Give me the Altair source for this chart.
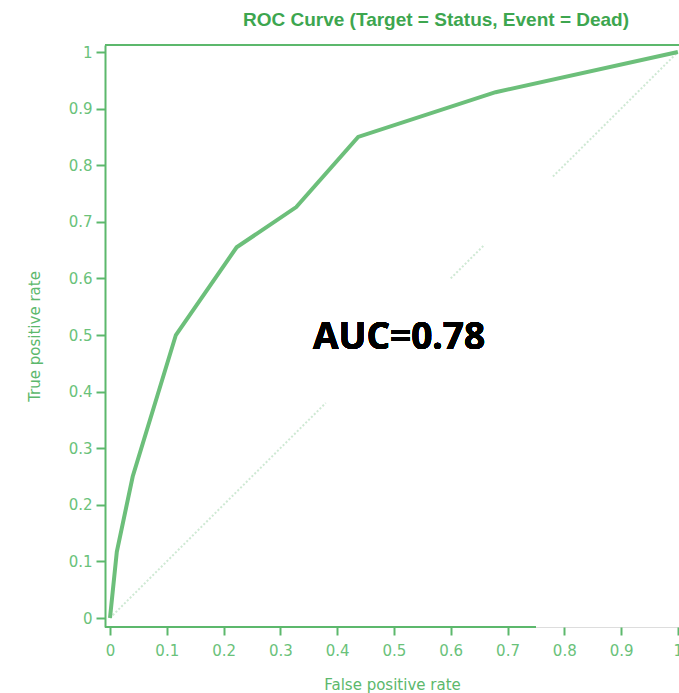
import altair as alt
import pandas as pd

fpr = [0.0, 0.012, 0.04, 0.116, 0.223, 0.328, 0.437, 0.679, 1.0]
tpr = [0.0, 0.117, 0.25, 0.50, 0.655, 0.726, 0.85, 0.929, 1.0]

diag_x = [0.0, 0.38, 0.60, 0.66, 0.78, 1.0]
diag_y = [0.0, 0.38, 0.60, 0.66, 0.78, 1.0]
diag_seg = ["a", "a", "b", "b", "c", "c"]

ticks = [0, 0.1, 0.2, 0.3, 0.4, 0.5, 0.6, 0.7, 0.8, 0.9, 1]

roc = pd.DataFrame({"fpr": fpr, "tpr": tpr})
diag = pd.DataFrame({"fpr": diag_x, "tpr": diag_y, "seg": diag_seg})

GREEN = "#5cb86c"
LINE = "#6cbf7a"
LABEL = "#6ac27a"

W, H = 574, 582
xs = alt.Scale(domain=[-0.0088, 1.002], nice=False, zero=False)
ys = alt.Scale(domain=[-0.0159, 1.0124], nice=False, zero=False)

xax = alt.Axis(values=ticks, title="False positive rate", labelExpr="format(datum.value, '~g')",
               domain=False, grid=False, tickColor=GREEN, tickSize=8, tickWidth=2,
               labelColor=LABEL, labelFont="DejaVu Sans", labelFontSize=15, labelPadding=8,
               titleColor=GREEN, titleFont="DejaVu Sans", titleFontSize=15, titleFontWeight="normal",
               titlePadding=19)
yax = alt.Axis(values=ticks, title="True positive rate", labelExpr="format(datum.value, '~g')",
               domain=True, domainColor=GREEN, domainWidth=2, grid=False,
               tickColor=GREEN, tickSize=9, tickWidth=2,
               labelColor=LABEL, labelFont="DejaVu Sans", labelFontSize=15, labelPadding=4,
               titleColor=GREEN, titleFont="DejaVu Sans", titleFontSize=15, titleFontWeight="normal",
               titlePadding=26)

base = alt.Chart(roc)

curve = base.mark_line(color=LINE, strokeWidth=4).encode(
    x=alt.X("fpr:Q", scale=xs, axis=xax),
    y=alt.Y("tpr:Q", scale=ys, axis=yax),
)

ref = alt.Chart(diag).mark_line(color="#cfe9d4", strokeWidth=2, strokeDash=[2, 2]).encode(
    x=alt.X("fpr:Q", scale=xs),
    y=alt.Y("tpr:Q", scale=ys),
    detail="seg:N",
)

top = alt.Chart(roc).mark_rule(color=GREEN, strokeWidth=2).encode(
    x=alt.value(0), x2=alt.value(W), y=alt.value(0)
)
bottom = alt.Chart(roc).mark_rule(color=GREEN, strokeWidth=2).encode(
    x=alt.value(0), x2=alt.value(431), y=alt.value(H)
)

auc = alt.Chart(roc).mark_text(
    text="AUC=0.78", font="Open Sans", fontSize=37, fontWeight="bold", color="black",
    align="center", baseline="alphabetic"
).encode(x=alt.datum(0.509, scale=xs), y=alt.datum(0.475, scale=ys))

chart = alt.layer(ref, curve, top, bottom, auc).properties(
    width=W, height=H,
    title=alt.TitleParams("ROC Curve (Target = Status, Event = Dead)", color="#3da64f",
                          font="Liberation Sans", fontSize=19, fontWeight="bold",
                          anchor="middle", offset=14, dx=44),
    autosize=alt.AutoSizeParams(type="none"),
    padding={"left": 105, "top": 45, "right": 0, "bottom": 66},
).configure_view(stroke=None).configure(background="white")

chart.save("out.html", embed_options={"renderer": "svg", "actions": False})
